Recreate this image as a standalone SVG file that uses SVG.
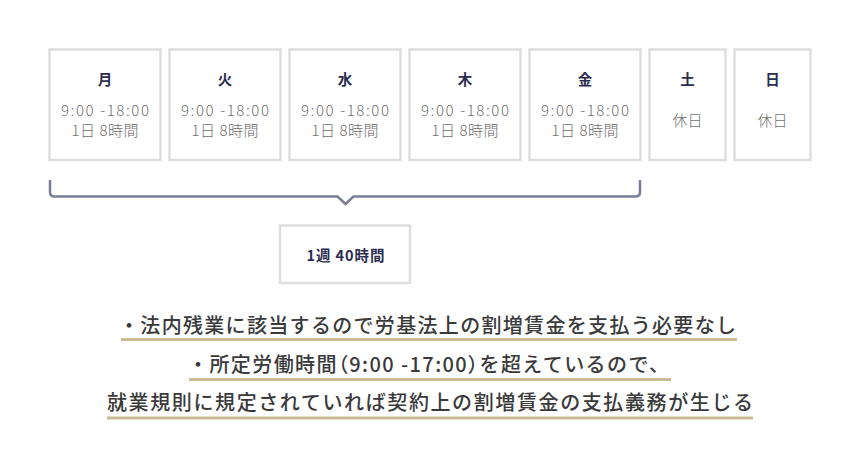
<svg xmlns="http://www.w3.org/2000/svg" width="860" height="470" viewBox="0 0 860 470">
<style>
.box{fill:#fff;stroke:#dedede;stroke-width:2.5}
.day{font-family:"Noto Sans CJK JP","Noto Sans",sans-serif;font-weight:700;font-size:14.5px;fill:#2b2d4f;text-anchor:middle}
.tm{font-family:"Noto Sans CJK JP","Noto Sans",sans-serif;font-weight:300;font-size:15px;fill:#6f6f6f;text-anchor:middle}
.wk{font-family:"Noto Sans CJK JP","Noto Sans",sans-serif;font-weight:700;font-size:14.5px;fill:#2b2d4f;text-anchor:middle}
.note{font-family:"Noto Sans CJK JP","Noto Sans",sans-serif;font-weight:500;font-size:20px;fill:#3a3a3a}
.p{font-feature-settings:"palt"}
.ul{stroke:#c9bc95;stroke-width:3;fill:none}
.br{stroke:#7b7c9a;stroke-width:2.5;fill:none}
</style>
<rect width="860" height="470" fill="#fff"/>
<g id="mon"><rect class="box" x="49.5" y="49.5" width="111" height="110.5"/><text class="day" x="105" y="85">月</text><text class="tm" x="105" y="115.5" textLength="88">9:00 -18:00</text><text class="tm" x="105" y="136" textLength="67">1日 8時間</text></g>
<g id="tue"><rect class="box" x="169.5" y="49.5" width="111" height="110.5"/><text class="day" x="225" y="85">火</text><text class="tm" x="225" y="115.5" textLength="88">9:00 -18:00</text><text class="tm" x="225" y="136" textLength="67">1日 8時間</text></g>
<g id="wed"><rect class="box" x="289.5" y="49.5" width="111" height="110.5"/><text class="day" x="345" y="85">水</text><text class="tm" x="345" y="115.5" textLength="88">9:00 -18:00</text><text class="tm" x="345" y="136" textLength="67">1日 8時間</text></g>
<g id="thu"><rect class="box" x="409.5" y="49.5" width="111" height="110.5"/><text class="day" x="465" y="85">木</text><text class="tm" x="465" y="115.5" textLength="88">9:00 -18:00</text><text class="tm" x="465" y="136" textLength="67">1日 8時間</text></g>
<g id="fri"><rect class="box" x="529.5" y="49.5" width="111" height="110.5"/><text class="day" x="585" y="85">金</text><text class="tm" x="585" y="115.5" textLength="88">9:00 -18:00</text><text class="tm" x="585" y="136" textLength="67">1日 8時間</text></g>
<g id="sat"><rect class="box" x="649.5" y="49.5" width="76" height="110.5"/><text class="day" x="687.5" y="85">土</text><text class="tm" x="687.5" y="126">休日</text></g>
<g id="sun"><rect class="box" x="734.5" y="49.5" width="76" height="110.5"/><text class="day" x="772.5" y="85">日</text><text class="tm" x="772.5" y="126">休日</text></g>
<g id="connectors">
<path class="br" d="M50 180 V192 Q50 196.5 54.5 196.5 H337.5 L345.5 204 L353.5 196.5 H635.5 Q640 196.5 640 192 V180"/>
</g>
<g id="week"><rect class="box" x="280" y="225.5" width="130" height="57.5"/><text class="wk" x="345.5" y="261" textLength="78">1週 40時間</text></g>
<g id="notes">
<text class="note" x="119" y="333" textLength="617">・法内残業に該当するので労基法上の割増賃金を支払う必要なし</text>
<line class="ul" x1="121" y1="339.5" x2="737" y2="339.5"/>
<text class="note" x="188" y="372" textLength="481">・所定労働時間<tspan class="p">（</tspan>9:00 -17:00<tspan class="p">）</tspan>を超えているので、</text>
<line class="ul" x1="189" y1="379.5" x2="671" y2="379.5"/>
<text class="note" x="107" y="410" textLength="646">就業規則に規定されていれば契約上の割増賃金の支払義務が生じる</text>
<line class="ul" x1="107" y1="418" x2="753" y2="418"/>
</g>
</svg>
